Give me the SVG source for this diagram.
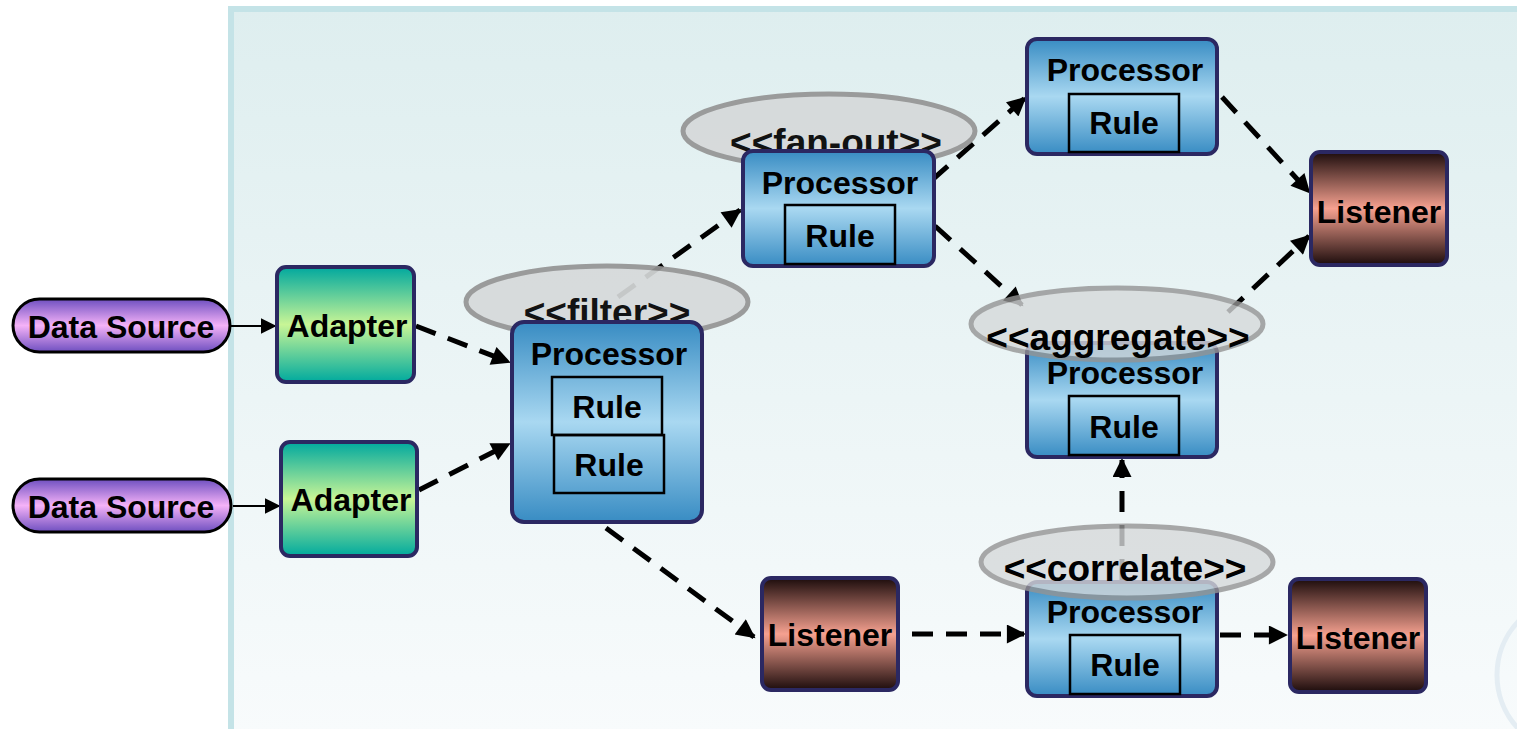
<svg xmlns="http://www.w3.org/2000/svg" width="1517" height="729" viewBox="0 0 1517 729">
<defs>
<linearGradient id="gBg" x1="0" y1="0" x2="0" y2="1"><stop offset="0" stop-color="#deeeef"/><stop offset="1" stop-color="#f8fbfc"/></linearGradient>
<linearGradient id="gProc" x1="0" y1="0" x2="0" y2="1"><stop offset="0" stop-color="#388cc3"/><stop offset="0.5" stop-color="#a9d8f1"/><stop offset="1" stop-color="#388cc3"/></linearGradient>
<linearGradient id="gAd" x1="0" y1="0" x2="0" y2="1"><stop offset="0" stop-color="#00a89e"/><stop offset="0.5" stop-color="#c8f596"/><stop offset="1" stop-color="#00aa9e"/></linearGradient>
<linearGradient id="gLis" x1="0" y1="0" x2="0" y2="1"><stop offset="0" stop-color="#1c0c0c"/><stop offset="0.5" stop-color="#f6a190"/><stop offset="1" stop-color="#1c0c0c"/></linearGradient>
<linearGradient id="gDs" x1="0" y1="0" x2="0" y2="1"><stop offset="0" stop-color="#6e4fc0"/><stop offset="0.5" stop-color="#f5b2f8"/><stop offset="1" stop-color="#6e4fc0"/></linearGradient>
<marker id="ah" viewBox="0 0 10 10" refX="9" refY="5" markerWidth="21" markerHeight="19" markerUnits="userSpaceOnUse" orient="auto"><path d="M0,0 L10,5 L0,10 z" fill="#000"/></marker>
<marker id="ahs" viewBox="0 0 10 10" refX="9" refY="5" markerWidth="16" markerHeight="16" markerUnits="userSpaceOnUse" orient="auto"><path d="M0,0 L10,5 L0,10 z" fill="#000"/></marker>
</defs>
<style>
text{font-family:"Liberation Sans",Arial,sans-serif;font-weight:bold;fill:#000;text-anchor:middle;dominant-baseline:central}
.t{font-size:32px}
.st{font-size:37px}
.proc{fill:url(#gProc);stroke:#2b2862;stroke-width:4}
.ad{fill:url(#gAd);stroke:#2b2862;stroke-width:4}
.lis{fill:url(#gLis);stroke:#2b2862;stroke-width:4}
.ds{fill:url(#gDs);stroke:#000;stroke-width:3}
.rule{fill:none;stroke:#000;stroke-width:2.5}
.dash{fill:none;stroke:#000;stroke-width:5;stroke-dasharray:21 13;marker-end:url(#ah)}
.solid{fill:none;stroke:#000;stroke-width:2;marker-end:url(#ahs)}
.ell{fill:#d6d9da;stroke:#949494;stroke-width:5}
</style>
<rect x="231" y="9" width="1292" height="724" fill="url(#gBg)" stroke="#c4e3e7" stroke-width="6"/>
<circle cx="1575" cy="675" r="78" fill="none" stroke="#e4edf3" stroke-width="5"/>

<g id="connectors">
<path class="solid" d="M231,326 L275,326"/>
<path class="solid" d="M233,506 L279,506"/>
<path class="dash" d="M416,326 L509,362"/>
<path class="dash" d="M419,490 L509,444"/>
<path class="dash" d="M618,297 L740,210"/>
<path class="dash" d="M932,180 L1025,98"/>
<path class="dash" d="M1222,97 L1309,192"/>
<path class="dash" d="M935,226 L1022,305"/>
<path class="dash" d="M1228,312 L1309,236"/>
<path class="dash" d="M606,528 L754,637"/>
<path class="dash" d="M912,634 L1024,634"/>
<path class="dash" d="M1220,635 L1286,635"/>
<path class="dash" d="M1122,580 L1122,460"/>
</g>

<g id="filter-label" opacity="0.92">
<ellipse class="ell" cx="607" cy="302" rx="141" ry="36"/>
<text class="st" x="607" y="312">&lt;&lt;filter&gt;&gt;</text>
</g>
<g id="fanout-label" opacity="0.92">
<ellipse class="ell" cx="829" cy="131" rx="146" ry="37"/>
<text class="st" x="836" y="142">&lt;&lt;fan-out&gt;&gt;</text>
</g>

<g id="ds1"><rect class="ds" x="13" y="299" width="217" height="53" rx="26.5"/><text class="t" x="121" y="327">Data Source</text></g>
<g id="ds2"><rect class="ds" x="13" y="479" width="218" height="53" rx="26.5"/><text class="t" x="121" y="507">Data Source</text></g>
<g id="adapter1"><rect class="ad" x="277" y="267" width="137" height="115" rx="9"/><text class="t" x="347" y="326">Adapter</text></g>
<g id="adapter2"><rect class="ad" x="281" y="442" width="136" height="114" rx="9"/><text class="t" x="351" y="500">Adapter</text></g>

<g id="proc-filter">
<rect class="proc" x="512" y="322" width="190" height="200" rx="12"/>
<text class="t" x="609" y="354">Processor</text>
<rect class="rule" x="552" y="377" width="110" height="58"/>
<text class="t" x="607" y="407">Rule</text>
<rect class="rule" x="554" y="435" width="110" height="58"/>
<text class="t" x="609" y="465">Rule</text>
</g>

<g id="proc-fanout">
<rect class="proc" x="743" y="151" width="191" height="115" rx="10"/>
<text class="t" x="840" y="183">Processor</text>
<rect class="rule" x="785" y="205" width="110" height="59"/>
<text class="t" x="840" y="236">Rule</text>
</g>

<g id="proc-top">
<rect class="proc" x="1027" y="39" width="190" height="115" rx="10"/>
<text class="t" x="1125" y="70">Processor</text>
<rect class="rule" x="1069" y="94" width="110" height="58"/>
<text class="t" x="1124" y="123">Rule</text>
</g>

<g id="listener-top"><rect class="lis" x="1311" y="152" width="136" height="113" rx="9"/><text class="t" x="1379" y="212">Listener</text></g>
<g id="listener-mid"><rect class="lis" x="762" y="578" width="136" height="112" rx="9"/><text class="t" x="830" y="635">Listener</text></g>
<g id="listener-bot"><rect class="lis" x="1290" y="579" width="136" height="113" rx="9"/><text class="t" x="1358" y="638">Listener</text></g>

<g id="proc-aggregate">
<rect class="proc" x="1027" y="343" width="190" height="114" rx="10"/>
<text class="t" x="1125" y="373">Processor</text>
<rect class="rule" x="1069" y="396" width="110" height="59"/>
<text class="t" x="1124" y="427">Rule</text>
</g>
<g id="aggregate-label">
<ellipse class="ell" cx="1117" cy="324" rx="146" ry="36" opacity="0.8"/>
<text class="st" x="1118" y="337">&lt;&lt;aggregate&gt;&gt;</text>
</g>

<g id="proc-correlate">
<rect class="proc" x="1027" y="582" width="190" height="114" rx="10"/>
<text class="t" x="1125" y="612">Processor</text>
<rect class="rule" x="1070" y="635" width="110" height="59"/>
<text class="t" x="1125" y="665">Rule</text>
</g>
<g id="correlate-label">
<ellipse class="ell" cx="1127" cy="562" rx="146" ry="36" opacity="0.8"/>
<text class="st" x="1125" y="568">&lt;&lt;correlate&gt;&gt;</text>
</g>
</svg>
